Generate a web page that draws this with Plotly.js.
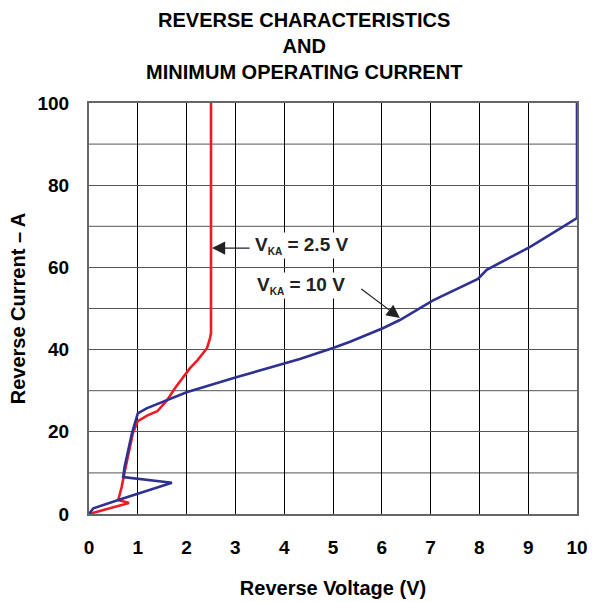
<!DOCTYPE html>
<html>
<head>
<meta charset="utf-8">
<script src="https://cdn.plot.ly/plotly-3.0.1.min.js"></script>
<style>html,body{margin:0;padding:0;background:#fff;}#chart{width:593px;height:602px;}</style>
</head>
<body>
<div id="chart"></div>
<script>
// Reverse voltage (V) and reverse current (µA) for V_KA = 2.5 V
const redX = [0, 0.82, 0.6, 0.67, 0.73, 0.9, 1.0, 1.2, 1.4, 1.6, 1.76, 1.93, 2.07, 2.23, 2.42, 2.48, 2.5, 2.5];
const redY = [0, 2.7, 3.4, 6.6, 10.2, 19.7, 22.6, 24, 25, 27.7, 30.6, 33.3, 35.5, 37.5, 40.4, 42.8, 44, 100];
// V_KA = 10 V
const blueX = [0, 0.09, 0.6, 1.7, 0.7, 0.73, 0.88, 1.0, 1.18, 1.62, 2.0, 3.0, 4.0, 4.32, 5.0, 5.35, 6.02, 6.37, 7.05, 7.97, 8.15, 9.04, 9.7, 9.98, 10, 10];
const blueY = [0, 1.4, 3.4, 7.6, 9.0, 11.5, 19.6, 24.5, 25.7, 27.7, 29.6, 33.2, 36.6, 37.7, 40.4, 41.9, 45.2, 47.2, 52, 57.2, 59.4, 65, 69.8, 71.8, 72, 100];
const xTicks = [0,1,2,3,4,5,6,7,8,9,10];
const yTicks = [0,20,40,60,80,100];
const labels = ['V<sub><span style="font-size:10px">KA</span></sub> = 2.5 V', 'V<sub><span style="font-size:10px">KA</span></sub> = 10 V'];

const FONT = 'Liberation Sans, Arial, Helvetica, sans-serif';

const traces = [
  {x: redX, y: redY, mode: 'lines', line: {color: '#ED1C24', width: 2.6}, hoverinfo: 'skip'},
  {x: blueX, y: blueY, mode: 'lines', line: {color: '#2E3192', width: 2.6}, hoverinfo: 'skip'}
];

const layout = {
  width: 593, height: 602,
  margin: {l: 89, r: 16, t: 103, b: 88},
  paper_bgcolor: '#fff', plot_bgcolor: '#fff',
  showlegend: false,
  font: {family: FONT, color: '#111', size: 18},
  title: {
    text: '<b>REVERSE CHARACTERISTICS<br>AND<br>MINIMUM OPERATING CURRENT</b>',
    font: {family: FONT, size: 20, color: '#000'},
    x: 0.513, xanchor: 'center', y: 0.955, yanchor: 'top'
  },
  xaxis: {
    range: [0, 10], tickvals: xTicks, ticktext: xTicks.map(v => '<b>' + v + '</b>'),
    showgrid: true, gridcolor: '#000', gridwidth: 1,
    zeroline: false, showline: true, linecolor: '#666', linewidth: 2, mirror: true,
    ticks: '', ticklabelstandoff: 15,
    tickfont: {family: FONT, size: 19, color: '#000'},
    title: {text: '<b>Reverse Voltage (V)</b>', font: {family: FONT, size: 20, color: '#000'}, standoff: 24}
  },
  yaxis: {
    range: [0, 100], tickvals: yTicks, ticktext: yTicks.map(v => '<b>' + v + '</b>'),
    showgrid: true, gridcolor: '#555', gridwidth: 1,
    zeroline: false, showline: true, linecolor: '#666', linewidth: 2, mirror: true,
    ticks: '', ticklabelstandoff: 14,
    tickfont: {family: FONT, size: 19, color: '#000'},
    title: {text: '<b>Reverse Current – A</b>', font: {family: FONT, size: 20, color: '#000'}, standoff: 6}
  },
  shapes: [10,30,50,70,90].map(v => ({type: 'line', xref: 'paper', x0: 0, x1: 1, yref: 'y', y0: v, y1: v, line: {color: '#555', width: 1}, layer: 'below'})),
  annotations: [
    {x: 2.52, y: 64.7, ax: 3.32, ay: 64.7, axref: 'x', ayref: 'y', xref: 'x', yref: 'y', text: '', showarrow: true, arrowhead: 2, arrowsize: 2.2, arrowwidth: 1.2, arrowcolor: '#222'},
    {x: 3.36, y: 65.4, xref: 'x', yref: 'y', text: '<b>' + labels[0] + '</b>', showarrow: false, xanchor: 'left', yanchor: 'middle', bgcolor: '#fff', font: {family: FONT, size: 19, color: '#222'}},
    {x: 3.4, y: 55.7, xref: 'x', yref: 'y', text: '<b>' + labels[1] + '</b>', showarrow: false, xanchor: 'left', yanchor: 'middle', bgcolor: '#fff', font: {family: FONT, size: 19, color: '#222'}},
    {x: 6.37, y: 47.7, ax: 5.55, ay: 55.0, axref: 'x', ayref: 'y', xref: 'x', yref: 'y', text: '', showarrow: true, arrowhead: 2, arrowsize: 2.2, arrowwidth: 1.2, arrowcolor: '#222'}
  ]
};

Plotly.newPlot('chart', traces, layout, {staticPlot: true, displayModeBar: false});
</script>
</body>
</html>
